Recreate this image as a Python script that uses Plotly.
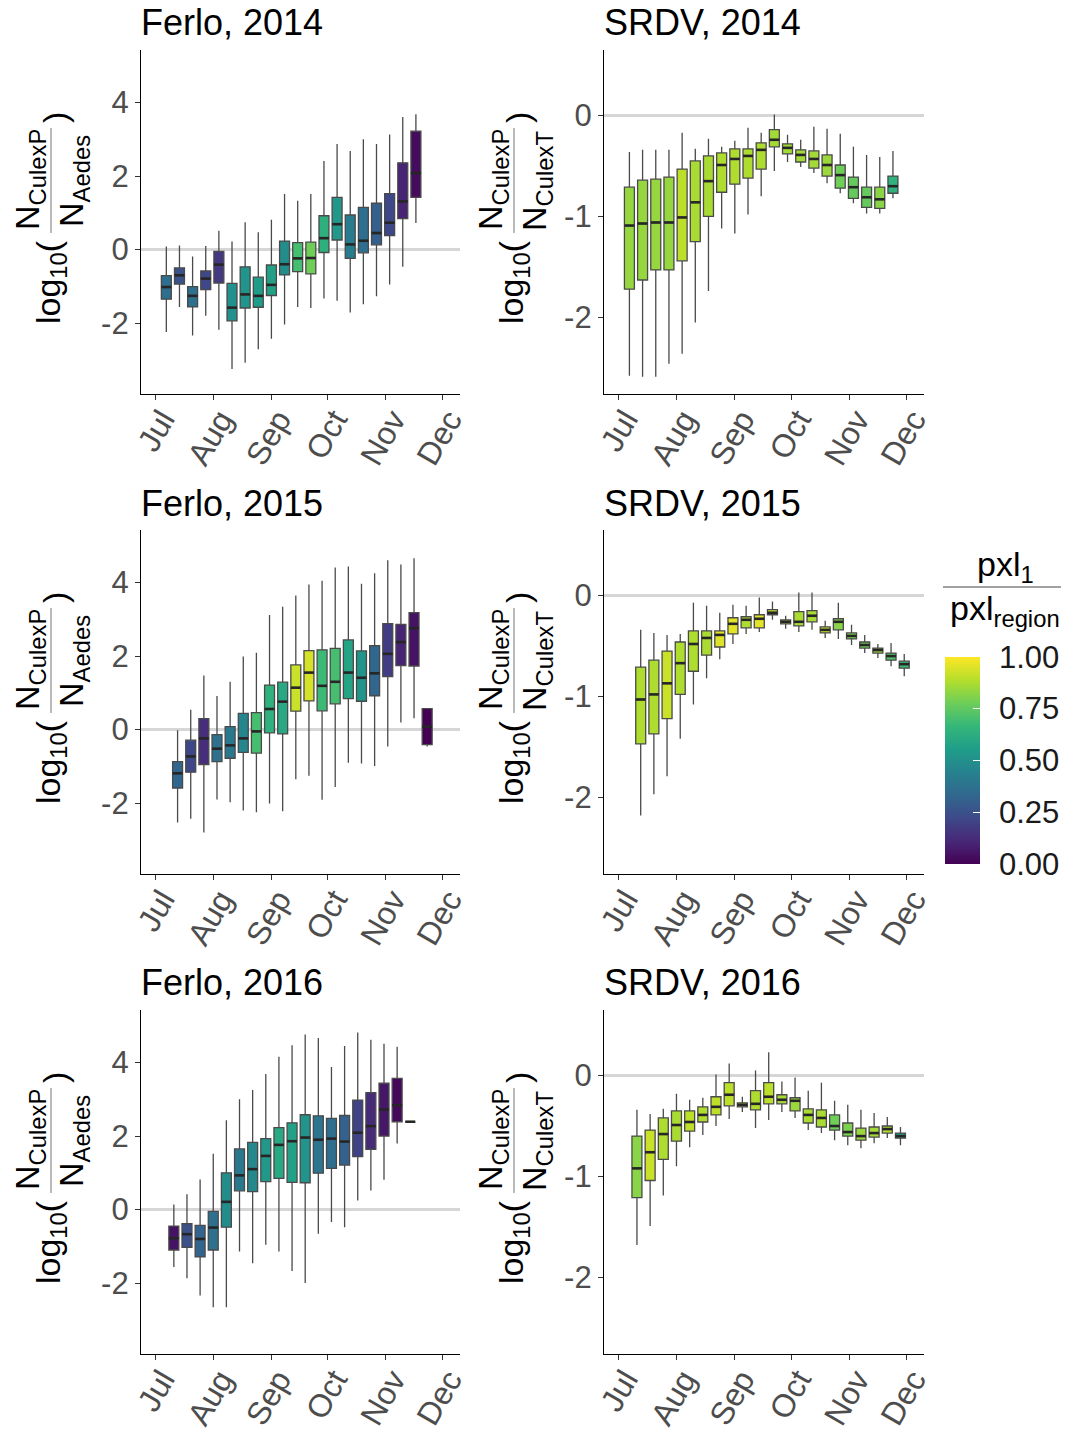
import pandas as pd
import plotly.graph_objects as go
from plotly.colors import sample_colorscale

PAGE_W, PAGE_H = 1069, 1430
BODY = 8  # default page margin of the html body
W, H = PAGE_W - BODY, PAGE_H - BODY
FONT = "Liberation Sans, Arial, Helvetica, sans-serif"

# ---------------- data ----------------
month_days = ["07-01", "08-01", "09-01", "10-01", "11-01", "12-01"]
month_labels = ["Jul", "Aug", "Sep", "Oct", "Nov", "Dec"]
ferlo_ticks = [-2, 0, 2, 4]
ferlo_ticktext = ["-2", "0", "2", "4"]
srdv_ticks = [-2, -1, 0]
srdv_ticktext = ["-2", "-1", "0"]
cbar_ticks = [0, 0.25, 0.5, 0.75, 1.0]
cbar_ticktext = ["0.00", "0.25", "0.50", "0.75", "1.00"]

# Ferlo 2014 (weekly, from 7 Jul)
ferlo14_start = "2014-07-07"
ferlo14_hi = [0.08, 0.11, -0.19, 0.10, 0.51, 0.22, 0.74, 0.47, 0.81, 1.51, 1.33, 1.51, 2.41, 2.87, 2.68, 3.00, 2.87, 3.13, 3.61, 3.68]
ferlo14_q3 = [-0.71, -0.50, -1.01, -0.58, -0.05, -0.92, -0.47, -0.75, -0.42, 0.23, 0.19, 0.20, 0.92, 1.42, 0.94, 1.15, 1.26, 1.52, 2.36, 3.22]
ferlo14_med = [-1.02, -0.70, -1.26, -0.79, -0.41, -1.58, -1.22, -1.26, -0.96, -0.40, -0.24, -0.23, 0.31, 0.69, 0.14, 0.24, 0.45, 0.73, 1.31, 2.08]
ferlo14_q1 = [-1.35, -0.94, -1.56, -1.09, -0.91, -1.94, -1.59, -1.57, -1.25, -0.69, -0.60, -0.66, -0.08, 0.26, -0.24, -0.09, 0.13, 0.38, 0.84, 1.42]
ferlo14_lo = [-2.24, -1.56, -2.34, -1.80, -2.18, -3.25, -3.08, -2.71, -2.43, -2.04, -1.56, -1.59, -1.33, -1.39, -1.71, -1.49, -1.27, -0.95, -0.47, 0.72]
ferlo14_pxl = [0.36, 0.25, 0.37, 0.22, 0.17, 0.50, 0.52, 0.55, 0.57, 0.49, 0.70, 0.78, 0.63, 0.53, 0.42, 0.36, 0.30, 0.22, 0.10, 0.03]

# SRDV 2014 (weekly, from 7 Jul)
srdv14_start = "2014-07-07"
srdv14_hi = [-0.36, -0.34, -0.34, -0.34, -0.17, -0.33, -0.23, -0.31, -0.25, -0.12, -0.17, 0.01, -0.19, -0.24, -0.11, -0.13, -0.18, -0.31, -0.39, -0.41, -0.35]
srdv14_q3 = [-0.71, -0.64, -0.63, -0.61, -0.53, -0.45, -0.40, -0.37, -0.33, -0.33, -0.27, -0.14, -0.28, -0.34, -0.35, -0.39, -0.49, -0.61, -0.71, -0.71, -0.60]
srdv14_med = [-1.09, -1.07, -1.06, -1.06, -1.01, -0.86, -0.65, -0.49, -0.43, -0.40, -0.34, -0.24, -0.32, -0.39, -0.43, -0.49, -0.59, -0.71, -0.81, -0.83, -0.70]
srdv14_q1 = [-1.72, -1.63, -1.53, -1.53, -1.44, -1.25, -1.00, -0.76, -0.68, -0.62, -0.53, -0.31, -0.38, -0.46, -0.52, -0.60, -0.72, -0.82, -0.91, -0.92, -0.77]
srdv14_lo = [-2.58, -2.59, -2.59, -2.46, -2.36, -2.05, -1.74, -1.12, -1.17, -0.98, -0.80, -0.55, -0.46, -0.51, -0.57, -0.67, -0.77, -0.87, -0.97, -0.97, -0.82]
srdv14_pxl = [0.84, 0.84, 0.84, 0.84, 0.90, 0.87, 0.87, 0.88, 0.88, 0.88, 0.88, 0.86, 0.86, 0.86, 0.86, 0.85, 0.78, 0.76, 0.76, 0.82, 0.64]

# Ferlo 2015 (weekly, from 13 Jul)
ferlo15_start = "2015-07-13"
ferlo15_hi = [-0.02, 0.54, 1.47, 0.91, 1.30, 1.99, 2.09, 3.12, 3.34, 3.65, 3.95, 4.05, 4.41, 4.44, 3.97, 4.25, 4.61, 4.49, 4.66, 0.57]
ferlo15_q3 = [-0.87, -0.29, 0.30, -0.14, 0.08, 0.44, 0.46, 1.21, 1.29, 1.76, 2.15, 2.17, 2.21, 2.44, 2.14, 2.28, 2.88, 2.86, 3.18, 0.57]
ferlo15_med = [-1.19, -0.73, -0.24, -0.52, -0.43, -0.24, -0.05, 0.56, 0.76, 1.14, 1.55, 1.19, 1.30, 1.55, 1.41, 1.53, 2.06, 2.38, 2.76, 0.08]
ferlo15_q1 = [-1.59, -1.16, -0.95, -0.87, -0.78, -0.62, -0.64, -0.09, -0.12, 0.50, 0.78, 0.51, 0.70, 0.84, 0.77, 0.92, 1.44, 1.74, 1.73, -0.41]
ferlo15_lo = [-2.53, -2.43, -2.80, -1.90, -1.98, -2.20, -2.25, -2.01, -2.22, -1.35, -1.26, -1.91, -1.56, -0.90, -0.92, -0.99, -0.46, 0.19, 0.31, -0.46]
ferlo15_pxl = [0.33, 0.22, 0.13, 0.37, 0.40, 0.46, 0.70, 0.64, 0.60, 0.92, 0.94, 0.68, 0.70, 0.58, 0.52, 0.33, 0.18, 0.10, 0.05, 0.00]

# SRDV 2015 (weekly, from 13 Jul)
srdv15_start = "2015-07-13"
srdv15_hi = [-0.34, -0.37, -0.39, -0.38, -0.07, -0.10, -0.17, -0.09, -0.10, -0.02, -0.06, -0.20, 0.03, 0.03, -0.25, -0.07, -0.29, -0.39, -0.48, -0.47, -0.58]
srdv15_q3 = [-0.71, -0.64, -0.55, -0.46, -0.35, -0.35, -0.35, -0.22, -0.21, -0.19, -0.14, -0.24, -0.16, -0.15, -0.31, -0.23, -0.37, -0.46, -0.52, -0.57, -0.65]
srdv15_med = [-1.03, -0.98, -0.87, -0.67, -0.48, -0.42, -0.39, -0.28, -0.24, -0.23, -0.17, -0.26, -0.26, -0.20, -0.34, -0.26, -0.40, -0.49, -0.54, -0.60, -0.68]
srdv15_q1 = [-1.47, -1.37, -1.22, -0.98, -0.75, -0.59, -0.51, -0.38, -0.32, -0.32, -0.19, -0.28, -0.30, -0.26, -0.37, -0.34, -0.43, -0.52, -0.57, -0.64, -0.72]
srdv15_lo = [-2.18, -1.97, -1.79, -1.42, -1.08, -0.82, -0.63, -0.48, -0.38, -0.36, -0.24, -0.33, -0.36, -0.34, -0.42, -0.43, -0.49, -0.57, -0.62, -0.70, -0.80]
srdv15_pxl = [0.88, 0.88, 0.92, 0.88, 0.88, 0.87, 0.95, 0.96, 0.88, 0.96, 0.90, 0.88, 0.87, 0.87, 0.90, 0.82, 0.80, 0.78, 0.85, 0.72, 0.68]

# Ferlo 2016 (weekly, from 11 Jul)
ferlo16_start = "2016-07-11"
ferlo16_hi = [0.14, 0.42, 0.82, 1.52, 2.43, 3.00, 3.25, 3.69, 4.16, 4.47, 4.76, 4.67, 3.88, 4.45, 4.82, 4.62, 4.51, 4.43, 2.39]
ferlo16_q3 = [-0.45, -0.38, -0.43, -0.05, 1.00, 1.65, 1.83, 1.93, 2.23, 2.36, 2.58, 2.55, 2.48, 2.56, 2.98, 3.18, 3.44, 3.57, 2.39]
ferlo16_med = [-0.78, -0.67, -0.80, -0.49, 0.21, 0.93, 1.10, 1.46, 1.76, 1.86, 1.96, 1.90, 1.93, 1.85, 2.09, 2.27, 2.72, 2.84, 2.39]
ferlo16_q1 = [-1.10, -1.03, -1.29, -1.10, -0.48, 0.51, 0.49, 0.76, 0.85, 0.74, 0.73, 0.99, 1.12, 1.21, 1.44, 1.64, 2.00, 2.39, 2.39]
ferlo16_lo = [-1.56, -1.87, -2.34, -2.66, -2.66, -1.14, -1.46, -0.96, -1.14, -1.67, -2.00, -0.66, -0.34, -0.48, 0.25, 0.52, 0.81, 1.80, 2.39]
ferlo16_pxl = [0.05, 0.25, 0.32, 0.37, 0.49, 0.40, 0.47, 0.53, 0.60, 0.57, 0.52, 0.39, 0.36, 0.31, 0.20, 0.12, 0.06, 0.02, 0.00]

# SRDV 2016 (weekly, from 11 Jul)
srdv16_start = "2016-07-11"
srdv16_hi = [-0.34, -0.38, -0.33, -0.18, -0.24, -0.22, 0.01, 0.12, -0.21, 0.05, 0.23, -0.06, -0.02, -0.15, -0.07, -0.25, -0.29, -0.34, -0.37, -0.41, -0.51]
srdv16_q3 = [-0.60, -0.54, -0.42, -0.35, -0.35, -0.31, -0.21, -0.07, -0.27, -0.15, -0.07, -0.19, -0.22, -0.33, -0.34, -0.39, -0.47, -0.52, -0.51, -0.50, -0.57]
srdv16_med = [-0.92, -0.76, -0.58, -0.49, -0.46, -0.39, -0.31, -0.19, -0.29, -0.28, -0.21, -0.24, -0.25, -0.39, -0.42, -0.50, -0.56, -0.60, -0.57, -0.53, -0.60]
srdv16_q1 = [-1.21, -1.04, -0.83, -0.65, -0.55, -0.46, -0.39, -0.30, -0.31, -0.34, -0.28, -0.28, -0.35, -0.47, -0.51, -0.54, -0.60, -0.64, -0.61, -0.57, -0.62]
srdv16_lo = [-1.68, -1.49, -1.19, -0.90, -0.71, -0.59, -0.50, -0.43, -0.36, -0.52, -0.44, -0.36, -0.42, -0.54, -0.57, -0.64, -0.69, -0.72, -0.67, -0.62, -0.69]
srdv16_pxl = [0.82, 0.92, 0.88, 0.87, 0.90, 0.88, 0.90, 0.90, 0.88, 0.88, 0.90, 0.86, 0.85, 0.87, 0.87, 0.78, 0.80, 0.85, 0.86, 0.88, 0.57]

panels = [
    dict(title="Ferlo, 2014", year=2014, start=ferlo14_start, lo=ferlo14_lo, q1=ferlo14_q1, med=ferlo14_med, q3=ferlo14_q3, hi=ferlo14_hi, pxl=ferlo14_pxl, kind="ferlo"),
    dict(title="SRDV, 2014", year=2014, start=srdv14_start, lo=srdv14_lo, q1=srdv14_q1, med=srdv14_med, q3=srdv14_q3, hi=srdv14_hi, pxl=srdv14_pxl, kind="srdv"),
    dict(title="Ferlo, 2015", year=2015, start=ferlo15_start, lo=ferlo15_lo, q1=ferlo15_q1, med=ferlo15_med, q3=ferlo15_q3, hi=ferlo15_hi, pxl=ferlo15_pxl, kind="ferlo"),
    dict(title="SRDV, 2015", year=2015, start=srdv15_start, lo=srdv15_lo, q1=srdv15_q1, med=srdv15_med, q3=srdv15_q3, hi=srdv15_hi, pxl=srdv15_pxl, kind="srdv"),
    dict(title="Ferlo, 2016", year=2016, start=ferlo16_start, lo=ferlo16_lo, q1=ferlo16_q1, med=ferlo16_med, q3=ferlo16_q3, hi=ferlo16_hi, pxl=ferlo16_pxl, kind="ferlo"),
    dict(title="SRDV, 2016", year=2016, start=srdv16_start, lo=srdv16_lo, q1=srdv16_q1, med=srdv16_med, q3=srdv16_q3, hi=srdv16_hi, pxl=srdv16_pxl, kind="srdv"),
]

# ---------------- layout geometry (page pixels) ----------------
COL_X = [(141, 460), (604, 924)]
ROW_Y = [(50, 394), (530, 874), (1010, 1354)]
FERLO_RANGE = [-3.93, 5.43]
SRDV_RANGE = [-2.76, 0.65]
BOX_DAYS = 5.3
CBAR_TOP, CBAR_BOTTOM = 657, 864


def px(xp):
    return (xp - BODY) / W


def py(yp):
    return 1 - (yp - BODY) / H


fig = go.Figure()
layout = dict(
    template="none",
    width=W, height=H, margin=dict(l=0, r=0, t=0, b=0, autoexpand=False),
    paper_bgcolor="white", plot_bgcolor="white", showlegend=False,
    boxmode="overlay", font=dict(family=FONT),
)
annotations = []
shapes = []

for i, p in enumerate(panels):
    r, c = divmod(i, 2)
    n = i + 1
    xa = "x" if n == 1 else f"x{n}"
    ya = "y" if n == 1 else f"y{n}"
    dates = pd.date_range(p["start"], periods=len(p["med"]), freq="7D")
    colors = sample_colorscale("Viridis", p["pxl"])
    half = pd.Timedelta(days=BOX_DAYS / 2)
    mx, my = [], []
    for j, d in enumerate(dates):
        fig.add_trace(go.Box(
            x=[d], q1=[p["q1"][j]], median=[p["med"][j]], q3=[p["q3"][j]],
            lowerfence=[p["lo"][j]], upperfence=[p["hi"][j]],
            fillcolor=colors[j], line=dict(color="#4a4a4a", width=1.3),
            whiskerwidth=0, boxpoints=False, width=BOX_DAYS * 86400000,
            xaxis=xa, yaxis=ya, hoverinfo="skip",
        ))
        mx += [d - half, d + half, None]
        my += [p["med"][j], p["med"][j], None]
    fig.add_trace(go.Scatter(x=mx, y=my, mode="lines", line=dict(color="#262626", width=2.6),
                             xaxis=xa, yaxis=ya, hoverinfo="skip"))

    x0, x1 = COL_X[c]
    y0, y1 = ROW_Y[r]
    yr = p["year"]
    layout["xaxis" if n == 1 else f"xaxis{n}"] = dict(
        type="date", domain=[px(x0), px(x1)], anchor=ya, automargin=False,
        range=[f"{yr}-06-23 12:00", f"{yr}-12-10 12:00"],
        tickmode="array", tickvals=[f"{yr}-{m}" for m in month_days], ticktext=month_labels,
        tickangle=-60, ticks="outside", ticklen=5, tickwidth=1, tickcolor="#333333",
        ticklabelstandoff=-12, ticklabelshift=7,
        showline=True, linecolor="black", linewidth=1.3, showgrid=False, zeroline=False,
        tickfont=dict(family=FONT, size=32, color="#4D4D4D"),
    )
    if p["kind"] == "ferlo":
        rng, tv, tt = FERLO_RANGE, ferlo_ticks, ferlo_ticktext
        den = "N<sub>Aedes</sub>"
    else:
        rng, tv, tt = SRDV_RANGE, srdv_ticks, srdv_ticktext
        den = "N<sub>CulexT</sub>"
    layout["yaxis" if n == 1 else f"yaxis{n}"] = dict(
        domain=[py(y1), py(y0)], anchor=xa, range=rng, automargin=False,
        tickmode="array", tickvals=tv, ticktext=tt,
        ticks="outside", ticklen=5, tickwidth=1, tickcolor="#333333",
        showline=True, linecolor="black", linewidth=1.3, showgrid=False,
        zeroline=True, zerolinecolor="#D6D6D6", zerolinewidth=2.5,
        tickfont=dict(family=FONT, size=31, color="#4D4D4D"),
    )
    # panel title
    annotations.append(dict(text=p["title"], x=px(x0 - 2), y=py(y0 - 27), xref="paper", yref="paper",
                            xanchor="left", yanchor="middle", showarrow=False,
                            font=dict(family=FONT, size=36, color="black")))
    # y-axis title built as rotated fraction
    tfont = dict(family=FONT, size=34, color="black")
    for txt, dx, dy in [("N<sub>CulexP</sub>", -112, 130), (den, -68, 131),
                        ("log<sub>10</sub>(", -91, 232), (")", -86, 68)]:
        annotations.append(dict(text=txt, x=px(x0 + dx), y=py(y0 + dy), xref="paper", yref="paper",
                                xanchor="center", yanchor="middle", textangle=-90,
                                showarrow=False, font=tfont))
    shapes.append(dict(type="line", xref="paper", yref="paper",
                       x0=px(x0 - 90), x1=px(x0 - 90), y0=py(y0 + 78), y1=py(y0 + 183),
                       line=dict(color="#8c8c8c", width=1.2)))

# colour bar (labels drawn as annotations to match spacing)
fig.add_trace(go.Scatter(
    x=["2014-01-01"], y=[100], mode="markers", xaxis="x", yaxis="y", hoverinfo="skip",
    marker=dict(color=[0.5], cmin=0, cmax=1, colorscale="Viridis", showscale=True, size=1,
                colorbar=dict(
                    x=px(945), xanchor="left", xpad=0, ypad=0,
                    y=py((CBAR_TOP + CBAR_BOTTOM) / 2), yanchor="middle",
                    len=CBAR_BOTTOM - CBAR_TOP, lenmode="pixels",
                    thickness=35, thicknessmode="pixels", outlinewidth=0,
                    tickmode="array", tickvals=cbar_ticks, showticklabels=False,
                    ticks="inside", ticklen=7, tickcolor="white", tickwidth=1,
                )),
))
for v, t in zip(cbar_ticks, cbar_ticktext):
    yy = CBAR_BOTTOM - v * (CBAR_BOTTOM - CBAR_TOP)
    annotations.append(dict(text=t, x=px(997), y=py(yy), xref="paper", yref="paper",
                            xanchor="left", yanchor="middle", showarrow=False,
                            font=dict(family=FONT, size=31, color="#1a1a1a")))
annotations.append(dict(text="pxl<sub>1</sub>", x=px(1005), y=py(566), xref="paper", yref="paper",
                        xanchor="center", yanchor="middle", showarrow=False,
                        font=dict(family=FONT, size=34, color="black")))
annotations.append(dict(text="pxl<sub>region</sub>", x=px(1005), y=py(610), xref="paper", yref="paper",
                        xanchor="center", yanchor="middle", showarrow=False,
                        font=dict(family=FONT, size=34, color="black")))
shapes.append(dict(type="line", xref="paper", yref="paper", x0=px(943), x1=px(1067),
                   y0=py(587), y1=py(587), line=dict(color="#444444", width=1.2)))

layout["annotations"] = annotations
layout["shapes"] = shapes
fig.update_layout(**layout)
fig.write_html("out.html")
